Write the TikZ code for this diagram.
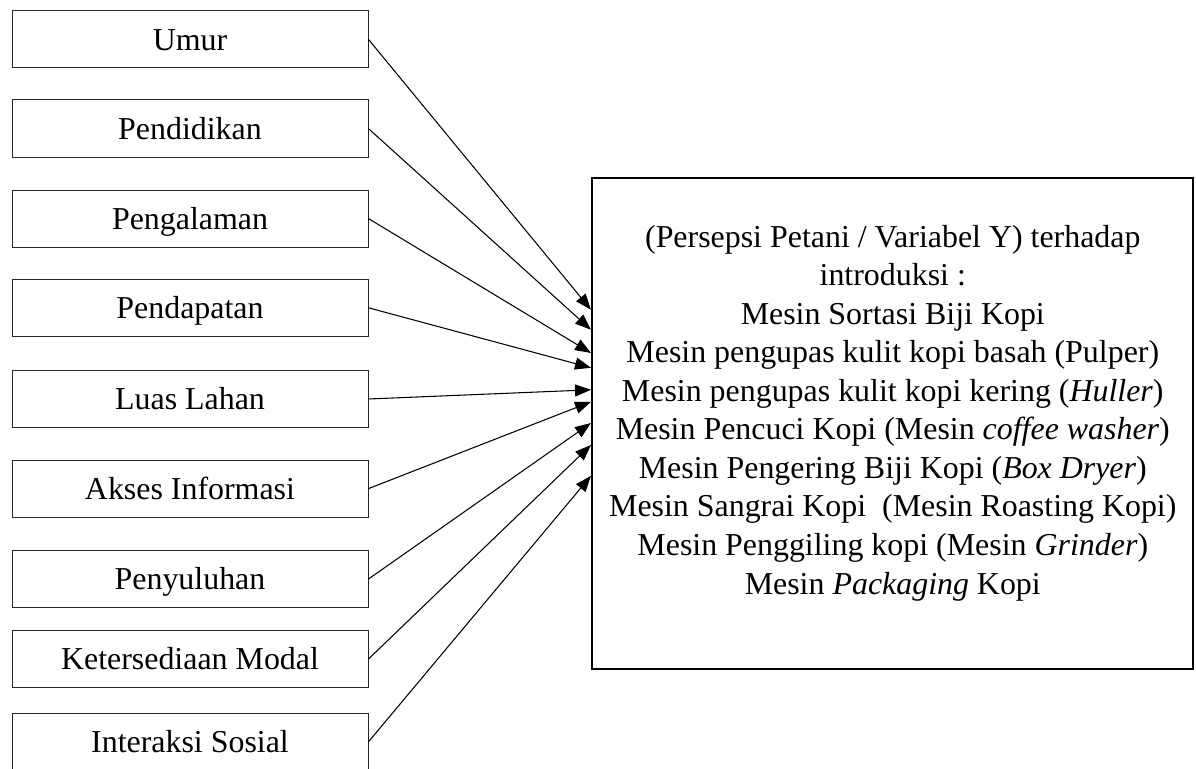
\documentclass[tikz,border=0pt]{standalone}
\usepackage{fontspec}
\setmainfont{Liberation Serif}
\usepackage{tikz}
\usetikzlibrary{arrows.meta}

\begin{document}
\begin{tikzpicture}[x=1cm,y=1cm,
  kotak/.style={draw=black!85,line width=0.7pt,minimum width=8.90cm,minimum height=1.43cm,
    inner sep=0pt,text height=15.6pt,text depth=0pt,font=\fontsize{22.7}{27.4}\selectfont},
  panah/.style={line width=0.75pt,-{Triangle[length=0.4cm,width=0.3cm]}}]
\useasboundingbox (0,0) rectangle (29.90,19.225);
% faktor (variabel X)
\node[kotak] (umur) at (4.75,18.24) {Umur};
\node[kotak] (pendidikan) at (4.75,16.01) {Pendidikan};
\node[kotak] (pengalaman) at (4.75,13.76) {Pengalaman};
\node[kotak] (pendapatan) at (4.75,11.53) {Pendapatan};
\node[kotak] (luas) at (4.75,9.25) {Luas Lahan};
\node[kotak] (akses) at (4.75,7.01) {Akses Informasi};
\node[kotak] (penyuluhan) at (4.75,4.75) {Penyuluhan};
\node[kotak] (modal) at (4.75,2.75) {Ketersediaan Modal};
\node[kotak] (interaksi) at (4.75,0.68) {Interaksi Sosial};
% variabel Y
\node[draw,line width=1.4pt,minimum width=15.02cm,minimum height=12.27cm,inner sep=0pt]
  (persepsi) at (22.31,8.64) {};
\node[align=center,inner sep=0pt,font=\fontsize{22.7}{27.4}\selectfont] (isi) at (22.32,8.90)
  {(Persepsi Petani / Variabel Y) terhadap\\
   introduksi :\\
   Mesin Sortasi Biji Kopi\\
   Mesin pengupas kulit kopi basah (Pulper)\\
   Mesin pengupas kulit kopi kering (\textit{Huller})\\
   Mesin Pencuci Kopi (Mesin \textit{coffee washer})\\
   Mesin Pengering Biji Kopi (\textit{Box Dryer})\\
   Mesin Sangrai Kopi\ \ (Mesin Roasting Kopi)\\
   Mesin Penggiling kopi (Mesin \textit{Grinder})\\
   Mesin \textit{Packaging} Kopi};
% ujung panah
\foreach \n/\y in {1/11.48,2/10.98,3/10.40,4/10.03,5/9.48,6/9.18,7/8.65,8/8.10,9/7.33}
  \coordinate (t\n) at (persepsi.west |- 0,\y);
\foreach \src/\n in {umur/1,pendidikan/2,pengalaman/3,pendapatan/4,luas/5,akses/6,penyuluhan/7,modal/8,interaksi/9}
  \draw[panah] (\src.east) -- (t\n);
\end{tikzpicture}
\end{document}
